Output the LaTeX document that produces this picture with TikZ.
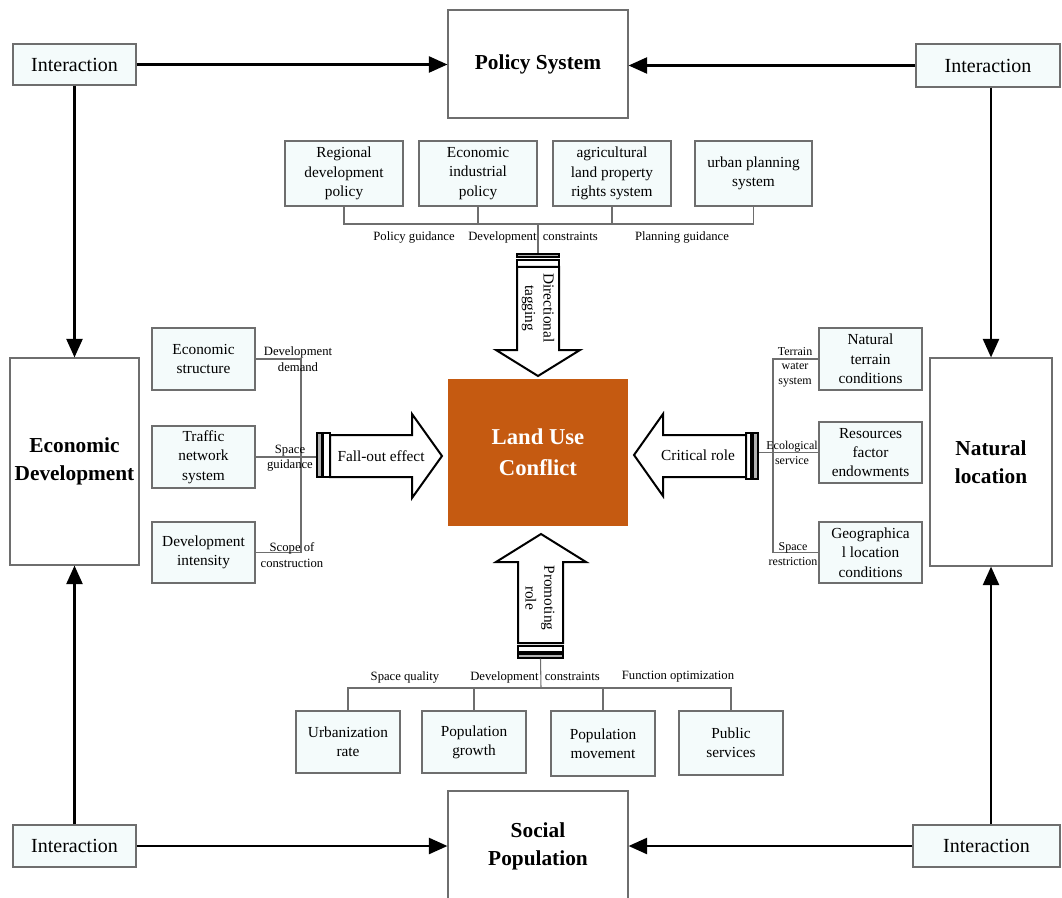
\documentclass[tikz,border=0pt]{standalone}
\usepackage{fontspec}
\setmainfont{Liberation Serif}
\usetikzlibrary{arrows.meta}
\definecolor{boxfill}{RGB}{244,251,251}
\definecolor{conflict}{RGB}{197,90,17}
\definecolor{edgegray}{RGB}{110,110,110}
\newcommand{\pbox}[7]{\node[#1, minimum width={(#5-#3)*0.75pt}, minimum height={(#6-#4)*0.75pt}] (#2) at ({(#3+#5)/2},{(#4+#6)/2}) {#7};}
\begin{document}
\begin{tikzpicture}[x=0.75pt,y=-0.75pt,
 box/.style={draw=edgegray, line width=0.8pt, fill=boxfill, align=center, inner sep=0pt, font=\fontsize{11.5}{14.5}\selectfont},
 mainbox/.style={draw=edgegray, line width=0.8pt, fill=white, align=center, inner sep=0pt, font=\fontsize{16}{21}\selectfont\bfseries},
 inter/.style={box, font=\fontsize{15}{18}\selectfont},
 conf/.style={fill=conflict, draw=none, align=center, inner sep=0pt, text=white, font=\fontsize{17}{23}\selectfont\bfseries},
 link/.style={draw=black, line width=2pt, -{Triangle[length=14pt,width=12pt]}},
 thinline/.style={draw=edgegray, line width=0.8pt},
 lab/.style={font=\fontsize{9.5}{11.5}\selectfont, inner sep=0pt, align=center},
 rlab/.style={font=\fontsize{9}{11}\selectfont, inner sep=0pt, align=center},
 blockarrow/.style={draw=black, line width=1.5pt, fill=white, line join=miter},
 barw/.style={draw=black, line width=1pt, fill=white, inner sep=0pt},
 bard/.style={draw=black, line width=1pt, fill=gray!60, inner sep=0pt},
 arrowtext/.style={font=\fontsize{11.5}{14}\selectfont, align=center, inner sep=0pt}
]
\useasboundingbox[fill=white] (0,0) rectangle (1062,898);

% main boxes
\pbox{mainbox}{policy}{448}{10}{628}{118}{Policy System}
\pbox{mainbox}{econ}{10}{358}{139}{565}{Economic\\Development}
\pbox{mainbox}{natural}{930}{358}{1052}{566}{Natural\\location}
\pbox{mainbox}{social}{448}{791}{628}{901}{Social\\Population}
\pbox{conf}{conflict}{448}{379}{628}{526}{Land Use\\Conflict}

% interaction boxes
\pbox{inter}{itl}{13}{44}{136}{85}{Interaction}
\pbox{inter}{itr}{916}{44}{1060}{87}{Interaction}
\pbox{inter}{ibl}{13}{825}{136}{867}{Interaction}
\pbox{inter}{ibr}{913}{825}{1060}{867}{Interaction}

\draw[link] (itl.east) -- (itl.east -| policy.west);
\draw[link] (itr.west) -- (itr.west -| policy.east);
\draw[link] (itl.south) -- (itl.south |- econ.north);
\draw[link] (natural.north |- itr.south) -- (natural.north);
\draw[link] (ibl.north) -- (ibl.north |- econ.south);
\draw[link] (ibl.east) -- (ibl.east -| social.west);
\draw[link] (ibr.west) -- (ibr.west -| social.east);
\draw[link] (natural.south |- ibr.north) -- (natural.south);

% ---- top: policy factors
\pbox{box}{rdp}{285}{141}{403}{206}{Regional\\development\\policy}
\pbox{box}{eip}{419}{141}{537}{206}{Economic\\industrial\\policy}
\pbox{box}{alp}{553}{141}{671}{206}{agricultural\\land property\\rights system}
\pbox{box}{ups}{695}{141}{812}{206}{urban planning\\system}
\coordinate (pbus) at (538,224);
\pbox{bard}{tbar1}{517}{254}{559}{257}{}
\pbox{barw}{tbar2}{517}{260}{559}{267}{}
\draw[thinline] (rdp.south) |- (ups.south |- pbus) -- (ups.south);
\draw[thinline] (eip.south) -- (eip.south |- pbus);
\draw[thinline] (alp.south) -- (alp.south |- pbus);
\draw[thinline] (pbus) -- (tbar1.north);
\node[lab] (lpg) at (414,237) {Policy guidance};
\node[lab] (ldc1) at (533,237) {Development\ \ constraints};
\node[lab] (lplg) at (682,237) {Planning guidance};
\draw[blockarrow] (517,267) -- (517,350) -- (496,350) -- (538,376) -- (580,350) -- (559,350) -- (559,267) -- cycle;
\node[arrowtext, rotate=-90] (tdir) at (538,308) {Directional\\tagging};

% ---- left: economic factors
\pbox{box}{es}{152}{328}{255}{390}{Economic\\structure}
\pbox{box}{tns}{152}{426}{255}{488}{Traffic\\network\\system}
\pbox{box}{di}{152}{522}{255}{583}{Development\\intensity}
\coordinate (lbus) at (301,457);
\pbox{bard}{lbar1}{317}{433}{322}{477}{}
\pbox{barw}{lbar2}{323}{433}{330}{477}{}
\draw[thinline] (es.east) -| (lbus);
\draw[thinline] (di.east) -| (lbus);
\draw[thinline] (tns.east) -- (tns.east -| lbar1.west);
\draw[blockarrow] (330,435) -- (412,435) -- (412,414) -- (442,456) -- (412,498) -- (412,477) -- (330,477) -- cycle;
\node[arrowtext] (tfall) at (381,456) {Fall-out effect};
\node[lab] (ldd) at (298,359) {Development\\demand};
\node[lab] (lsg) at (290,458) {Space\\guidance};
\node[lab] (lsc) at (292,555) {Scope of\\construction};

% ---- right: natural factors
\pbox{box}{ntc}{819}{328}{922}{390}{Natural\\terrain\\conditions}
\pbox{box}{rfe}{819}{422}{922}{483}{Resources\\factor\\endowments}
\pbox{box}{glc}{819}{522}{922}{583}{Geographica\\l location\\conditions}
\coordinate (rbus) at (773,452.5);
\pbox{barw}{rbar1}{746}{433}{751}{479}{}
\pbox{bard}{rbar2}{753}{433}{758}{479}{}
\draw[thinline] (ntc.west) -| (rbus);
\draw[thinline] (glc.west) -| (rbus);
\draw[thinline] (rfe.west) -- (rfe.west -| rbar2.east);
\draw[blockarrow] (746,435) -- (663,435) -- (663,414) -- (634,455) -- (663,496) -- (663,477) -- (746,477) -- cycle;
\node[arrowtext] (tcrit) at (698,455) {Critical role};
\node[rlab] (ltw) at (795,367) {Terrain\\water\\system};
\node[rlab] (les) at (792,453) {Ecological\\service};
\node[rlab] (lsr) at (793,554) {Space\\restriction};

% ---- bottom: social factors
\pbox{box}{ur}{296}{711}{400}{773}{Urbanization\\rate}
\pbox{box}{pg}{422}{711}{526}{773}{Population\\growth}
\pbox{box}{pm}{551}{711}{655}{776}{Population\\movement}
\pbox{box}{ps}{679}{711}{783}{775}{Public\\services}
\coordinate (bbus) at (541,688);
\pbox{barw}{bbar1}{518}{646}{563}{652}{}
\pbox{bard}{bbar2}{518}{654}{563}{658}{}
\draw[thinline] (ur.north) |- (ps.north |- bbus) -- (ps.north);
\draw[thinline] (pg.north) -- (pg.north |- bbus);
\draw[thinline] (pm.north) -- (pm.north |- bbus);
\draw[thinline] (bbus) -- (bbar2.south);
\node[lab] (lsq) at (405,677) {Space quality};
\node[lab] (ldc2) at (535,677) {Development\ \ constraints};
\node[lab] (lfo) at (678,677) {Function optimization};
\draw[blockarrow] (518,643) -- (518,562) -- (496,562) -- (541,534) -- (586,562) -- (563,562) -- (563,643) -- cycle;
\node[arrowtext, rotate=-90] (tprom) at (540,598) {Promoting\\role};
\end{tikzpicture}
\end{document}
